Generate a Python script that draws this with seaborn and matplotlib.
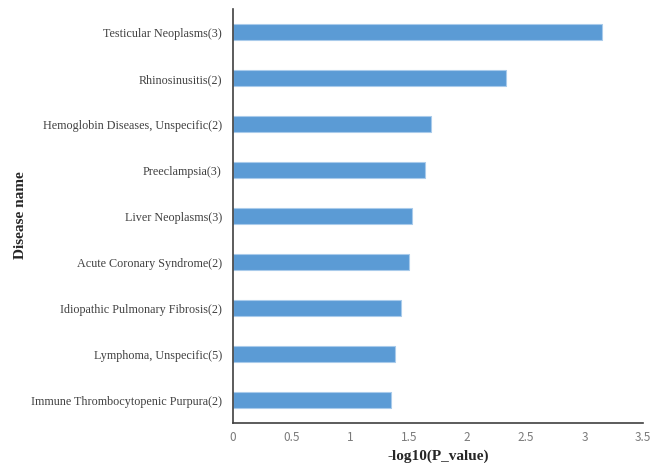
import matplotlib
matplotlib.use("Agg")
import matplotlib.pyplot as plt
import seaborn as sns
import pandas as pd

diseases = [
    "Testicular Neoplasms(3)",
    "Rhinosinusitis(2)",
    "Hemoglobin Diseases, Unspecific(2)",
    "Preeclampsia(3)",
    "Liver Neoplasms(3)",
    "Acute Coronary Syndrome(2)",
    "Idiopathic Pulmonary Fibrosis(2)",
    "Lymphoma, Unspecific(5)",
    "Immune Thrombocytopenic Purpura(2)",
]
neg_log_p = [3.15, 2.33, 1.69, 1.64, 1.53, 1.50, 1.43, 1.38, 1.35]
x_ticks = [0, 0.5, 1, 1.5, 2, 2.5, 3, 3.5]
x_tick_labels = ["0", "0.5", "1", "1.5", "2", "2.5", "3", "3.5"]

df = pd.DataFrame({"Disease name": diseases, "-log10(P_value)": neg_log_p})

sns.set_style("white")

fig = plt.figure(figsize=(6.51, 4.64), dpi=100)
ax = fig.add_axes([233 / 651, 1 - 424 / 464, 410 / 651, 414 / 464])

sns.barplot(
    data=df, x="-log10(P_value)", y="Disease name", orient="h",
    order=diseases, color="#5B9BD5", saturation=1, width=0.36,
    edgecolor="#A9CBEB", linewidth=0.8, ax=ax,
)

ax.set_xlim(0, 3.5)
ax.set_ylim(8.5, -0.5)
ax.set_xticks(x_ticks)
ax.set_xticklabels(x_tick_labels, fontfamily="Noto Sans CJK SC",
                   fontsize=8.5, color="#7a7a7a")
ax.tick_params(axis="x", length=0, pad=5)
ax.tick_params(axis="y", length=0, pad=8)
for lbl in ax.get_yticklabels():
    lbl.set_fontfamily("Liberation Serif")
    lbl.set_fontsize(8.7)
    lbl.set_color("#404040")

ax.set_xlabel("-log10(P_value)", fontfamily="Liberation Serif",
              fontweight="bold", fontsize=11, color="#262626")
ax.set_ylabel("Disease name", fontfamily="Liberation Serif",
              fontweight="bold", fontsize=11, color="#262626")
ax.xaxis.set_label_coords(0.5, -0.062)
ax.yaxis.set_label_coords(-0.502, 0.505)

for side in ["top", "right"]:
    ax.spines[side].set_visible(False)
for side in ["left", "bottom"]:
    ax.spines[side].set_color("#404040")
    ax.spines[side].set_linewidth(1.2)

fig.savefig("out.png", dpi=100)
